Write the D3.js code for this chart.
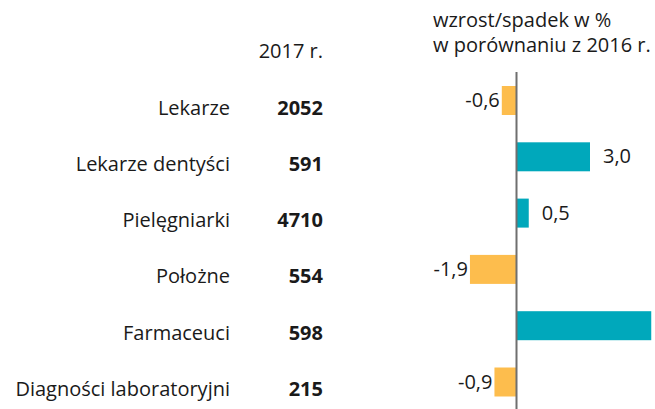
<!DOCTYPE html>
<html><head><meta charset="utf-8">
<script src="https://cdn.jsdelivr.net/npm/d3@7"></script>
<style>body{margin:0;background:#fff}svg{display:block}text{font-family:"Open Sans",sans-serif;fill:#1a1a1a}</style>
</head><body>
<script>
const categories = ["Lekarze","Lekarze dentyści","Pielęgniarki","Położne","Farmaceuci","Diagności laboratoryjni"];
const values2017 = [2052,591,4710,554,598,215];
const changes = [-0.6,3.0,0.5,-1.9,5.5,-0.9];
const headerLeft = "2017 r.";
const headerRight = ["wzrost/spadek w %","w porównaniu z 2016 r."];

const W=655,H=409;
const svg=d3.select("body").append("svg").attr("width",W).attr("height",H);
const fs=20;
const y=d3.scaleBand().domain(categories).range([72.35,410.15]).paddingInner(0.485).paddingOuter(0.2425);
const x=d3.scaleLinear().domain([0,5.5]).range([516.5,651.25]);
const loc=d3.formatLocale({decimal:",",thousands:" ",grouping:[3],currency:["",""],minus:"-"});
const f1=loc.format(".1f");
const cy=d=>y(d)+y.bandwidth()/2;

svg.append("text").attr("x",323).attr("y",58).attr("text-anchor","end").attr("font-size",fs).text(headerLeft);
svg.append("text").attr("x",433).attr("y",27).attr("font-size",fs)
  .selectAll("tspan").data(headerRight).join("tspan").attr("x",433).attr("dy",(d,i)=>i?25:0).text(d=>d);

const rows=svg.append("g").selectAll("g").data(categories).join("g");
rows.append("text").attr("x",230).attr("y",d=>cy(d)+14).attr("text-anchor","end").attr("font-size",fs).text(d=>d);
rows.append("text").attr("x",323).attr("y",d=>cy(d)+14).attr("text-anchor","end").attr("font-size",fs).attr("font-weight","bold").text((d,i)=>values2017[i]);

svg.append("g").selectAll("rect").data(changes).join("rect")
  .attr("x",d=>d<0?x(d):x(0))
  .attr("y",(d,i)=>y(categories[i]))
  .attr("width",d=>Math.abs(x(d)-x(0)))
  .attr("height",y.bandwidth())
  .attr("fill",d=>d<0?"#fdbd4d":"#00a8bb");

svg.append("g").selectAll("text").data(changes.map((v,i)=>({v,i})).filter(d=>x(d.v)+13<W-20)).join("text")
  .attr("x",d=>d.v<0?x(d.v)-2:x(d.v)+13)
  .attr("y",d=>cy(categories[d.i])+6.5)
  .attr("text-anchor",d=>d.v<0?"end":"start")
  .attr("font-size",fs).text(d=>f1(d.v));

svg.append("line").attr("x1",x(0)).attr("x2",x(0)).attr("y1",72).attr("y2",H).attr("stroke","#6f6f6f").attr("stroke-width",2);
</script>
</body></html>
